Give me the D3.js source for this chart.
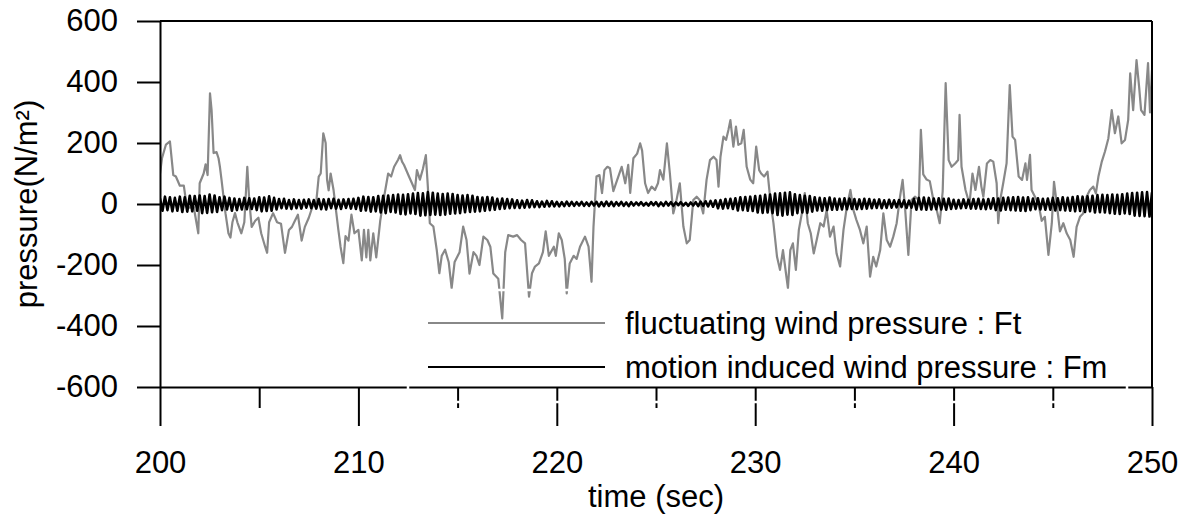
<!DOCTYPE html>
<html>
<head>
<meta charset="utf-8">
<script src="https://cdn.jsdelivr.net/npm/d3@7"></script>
<style>
  html, body { margin: 0; padding: 0; background: #fff; }
  svg { display: block; }
  text { font-family: "Liberation Sans", Arial, Helvetica, sans-serif; fill: #000; }
</style>
</head>
<body>
<svg id="chart" width="1183" height="516"></svg>
<script>
// Fluctuating wind pressure Ft: sample times (s) and values (N/m^2)
const ftTime = [
  200.0, 200.1, 200.3, 200.5, 200.67, 200.8, 201.0, 201.2, 201.35, 201.5, 201.7, 201.93,
  202.0, 202.2, 202.3, 202.4, 202.52, 202.6, 202.7, 202.85, 202.95, 203.02, 203.1, 203.2,
  203.3, 203.45, 203.55, 203.65, 203.78, 203.9, 204.1, 204.25, 204.4, 204.5, 204.62, 204.8,
  204.96, 205.1, 205.3, 205.4, 205.5, 205.7, 205.9, 206.1, 206.3, 206.5, 206.65, 206.8,
  206.95, 207.14, 207.3, 207.5, 207.73, 207.85, 208.0, 208.1, 208.23, 208.35, 208.42, 208.5,
  208.6, 208.75, 208.99, 209.1, 209.24, 209.35, 209.5, 209.65, 209.8, 210.0, 210.17, 210.28,
  210.4, 210.5, 210.6, 210.75, 210.9, 211.1, 211.26, 211.5, 211.65, 211.8, 212.0, 212.1,
  212.2, 212.3, 212.55, 212.85, 212.95, 213.1, 213.25, 213.4, 213.5, 213.6, 213.78, 213.95,
  214.08, 214.2, 214.37, 214.55, 214.7, 214.85, 215.1, 215.28, 215.45, 215.6, 215.8, 215.95,
  216.1, 216.3, 216.5, 216.65, 216.8, 217.05, 217.25, 217.4, 217.55, 217.8, 218.0, 218.2,
  218.4, 218.6, 218.75, 218.9, 219.1, 219.3, 219.44, 219.6, 219.85, 219.95, 220.1, 220.25,
  220.4, 220.5, 220.65, 220.85, 221.0, 221.17, 221.42, 221.6, 221.75, 221.85, 222.0, 222.15,
  222.28, 222.4, 222.55, 222.68, 222.85, 223.1, 223.27, 223.45, 223.6, 223.7, 223.86, 224.05,
  224.2, 224.3, 224.45, 224.6, 224.78, 224.95, 225.1, 225.2, 225.37, 225.55, 225.7, 225.87,
  226.0, 226.2, 226.38, 226.55, 226.7, 226.88, 227.05, 227.2, 227.38, 227.55, 227.72, 227.9,
  228.05, 228.15, 228.25, 228.4, 228.53, 228.65, 228.75, 228.9, 229.03, 229.15, 229.3, 229.42,
  229.57, 229.75, 229.9, 230.05, 230.2, 230.3, 230.45, 230.62, 230.78, 230.92, 231.1, 231.25,
  231.4, 231.55, 231.65, 231.77, 231.9, 232.05, 232.2, 232.35, 232.5, 232.65, 232.8, 232.95,
  233.1, 233.28, 233.45, 233.6, 233.77, 233.95, 234.1, 234.28, 234.45, 234.62, 234.8, 234.95,
  235.1, 235.28, 235.45, 235.62, 235.79, 235.95, 236.1, 236.3, 236.46, 236.63, 236.8, 236.96,
  237.13, 237.3, 237.43, 237.55, 237.72, 237.88, 238.05, 238.25, 238.35, 238.47, 238.64, 238.8,
  238.98, 239.15, 239.3, 239.45, 239.6, 239.75, 239.9, 240.08, 240.23, 240.3, 240.4, 240.6,
  240.8, 240.95, 241.1, 241.28, 241.4, 241.5, 241.68, 241.85, 242.0, 242.17, 242.25, 242.35,
  242.5, 242.67, 242.83, 242.97, 243.1, 243.28, 243.45, 243.62, 243.7, 243.85, 243.93, 244.1,
  244.28, 244.44, 244.6, 244.78, 244.95, 245.06, 245.2, 245.36, 245.53, 245.7, 245.88, 246.05,
  246.2, 246.37, 246.53, 246.7, 246.87, 247.04, 247.17, 247.3, 247.47, 247.63, 247.8, 247.97,
  248.13, 248.3, 248.47, 248.64, 248.8, 248.9, 249.05, 249.22, 249.35, 249.45, 249.62, 249.8,
  249.9, 250.0
];
const ftValue = [
  100, 150, 195, 205, 95, 90, 60, 60, -9, -12, -10, -96,
  68, 100, 130, 95, 363, 308, 167, 170, 150, 122, 80, 24,
  -30, -96, -110, -60, -30, -60, -96, -60, 122, 10, -75, -55,
  -45, -96, -140, -160, -60, -30, -60, -65, -160, -85, -75, -55,
  -35, -120, -75, -45, 0, -10, 90, 100, 232, 200, 80, 45,
  100, 45, -85, -140, -194, -105, -120, -35, -96, -85, -185, -85,
  -175, -85, -185, -96, -175, -55, 10, 100, 90, 122, 145, 160,
  139, 128, 90, 46, 111, 80, 115, 160, 57, -63, -74, -151,
  -227, -170, -150, -190, -276, -190, -158, -74, -118, -228, -158, -170,
  -200, -107, -118, -140, -228, -245, -375, -158, -102, -107, -102, -118,
  -129, -304, -227, -205, -195, -158, -90, -170, -140, -170, -96, -118,
  -180, -293, -195, -170, -180, -140, -107, -140, -255, -74, 90, 95,
  36, 111, 122, 117, 42, 90, 122, 68, 128, 36, 150, 165,
  199, 175, 68, 36, 57, 46, 68, 111, 80, 199, 100, -31,
  2, 68, -74, -129, -118, 13, 24, 13, -31, 80, 144, 155,
  144, 57, 155, 221, 210, 243, 275, 188, 254, 194, 199, 243,
  122, 80, 68, 188, 111, 100, 90, 106, 2, -63, -173, -216,
  -151, -227, -276, -151, -129, -216, -85, -31, 36, -63, -96, -162,
  -118, -63, -74, -20, -107, -74, -162, -205, -85, -9, 46, -20,
  -52, -85, -129, -74, -238, -173, -205, -151, -31, -118, -140, -107,
  -63, 24, 79, -9, -167, 13, 24, 13, 243, 97, 80, 75,
  13, -20, -63, 41, 396, 144, 122, 133, 144, 292, 122, 46,
  0, 100, 46, 122, 57, 24, 133, 144, 139, 68, -63, 13,
  68, 133, 390, 221, 210, 90, 79, 133, 79, 161, 46, 24,
  0, -55, -42, -167, -63, 73, 0, -90, -63, -96, -118, -173,
  -75, -42, -31, 24, 46, 57, 35, 90, 139, 172, 215, 308,
  232, 287, 199, 210, 276, 428, 308, 472, 385, 308, 292, 462,
  300, 440
];

// Motion induced wind pressure Fm: one value every half cycle (0.125 s) from 200 s
const fmStart = 200;
const fmStep = 0.125;
const fmValue = [
  18,-22,24,-20,22,-24,20,-22,
  24,-26,22,-25,27,-24,26,-22,
  28,-30,26,-29,31,-27,28,-26,
  22,-20,24,-18,20,-22,18,-20,
  16,-18,20,-17,19,-16,18,-20,
  22,-24,21,-23,25,-22,20,-18,
  16,-14,17,-15,13,-16,15,-14,
  13,-15,14,-12,15,-14,13,-15,
  16,-17,15,-18,16,-14,17,-15,
  14,-16,15,-13,16,-15,17,-16,
  20,-22,24,-21,23,-25,22,-24,
  26,-28,27,-30,28,-26,29,-28,
  31,-33,30,-34,32,-31,34,-33,
  36,-38,35,-37,39,-36,37,-35,
  34,-36,33,-35,34,-32,33,-31,
  29,-30,28,-27,29,-26,27,-25,
  23,-24,21,-22,23,-20,21,-19,
  17,-16,18,-15,16,-14,15,-13,
  12,-13,11,-12,13,-11,12,-10,
  9,-10,8,-9,10,-8,9,-8,
  7,-8,6,-7,8,-6,7,-6,
  6,-5,7,-6,5,-6,7,-5,
  7,-8,6,-7,8,-6,7,-7,
  6,-5,7,-6,5,-7,6,-5,
  5,-4,6,-5,4,-5,6,-4,
  6,-7,5,-6,7,-5,6,-6,
  5,-4,6,-5,4,-6,5,-5,
  6,-7,8,-6,9,-8,10,-9,
  12,-14,13,-15,16,-14,17,-16,
  19,-21,22,-20,23,-22,24,-23,
  26,-28,27,-29,30,-28,31,-30,
  34,-36,35,-38,37,-35,38,-36,
  32,-30,29,-28,27,-29,26,-25,
  22,-21,20,-22,19,-20,21,-19,
  18,-19,17,-18,19,-17,18,-16,
  16,-17,15,-16,17,-15,16,-14,
  14,-13,15,-14,12,-13,14,-12,
  12,-11,13,-10,12,-13,11,-12,
  17,-19,20,-18,21,-19,20,-18,
  18,-17,19,-18,17,-19,18,-16,
  14,-15,13,-14,15,-13,14,-15,
  16,-15,17,-16,15,-17,16,-15,
  19,-20,18,-21,20,-19,21,-20,
  22,-21,23,-22,21,-23,22,-20,
  18,-17,19,-18,17,-19,18,-19,
  20,-21,19,-20,22,-21,20,-22,
  23,-24,25,-23,24,-26,25,-24,
  27,-28,29,-27,30,-28,29,-30,
  31,-32,30,-33,32,-31,34,-33,
  36,-38,37,-39,38,-40,39,-41,
  38
];

// Axis ticks and labels
const yTicks = [600, 400, 200, 0, -200, -400, -600];
const xMajorTicks = [200, 210, 220, 230, 240, 250];
const xMinorTicks = [205, 215, 225, 235, 245];
const xTitle = "time (sec)";
const yTitle = "pressure(N/m\u00B2)";
const legendLabels = ["fluctuating wind pressure : Ft", "motion induced wind pressure : Fm"];

const svg = d3.select("#chart");
const FONT = 31;

const x = d3.scaleLinear().domain([200, 250]).range([160, 1152]);
const y = d3.scaleLinear().domain([-600, 600]).range([387, 21]);

const ft = ftTime.map((t, i) => [t, ftValue[i]]);
const fm = fmValue.map((v, i) => [fmStart + i * fmStep, v]);

const line = d3.line().x(d => x(d[0])).y(d => y(d[1]));

svg.append("defs").append("clipPath").attr("id", "plot-clip")
  .append("rect")
  .attr("x", x(200)).attr("y", y(600) - 5)
  .attr("width", x(250) - x(200)).attr("height", y(-600) - y(600) + 10);

// Data lines: fluctuating series below, motion induced series on top
const plot = svg.append("g").attr("clip-path", "url(#plot-clip)");
plot.append("path").datum(ft)
  .attr("d", line)
  .attr("fill", "none").attr("stroke", "#888")
  .attr("stroke-width", 2.2).attr("stroke-linejoin", "round");
plot.append("path").datum(fm)
  .attr("d", line)
  .attr("fill", "none").attr("stroke", "#000")
  .attr("stroke-width", 2.6).attr("stroke-linejoin", "round");

// Left axis
const yAxis = svg.append("g")
  .attr("transform", `translate(${x(200)},0)`)
  .call(d3.axisLeft(y).tickValues(yTicks).tickSize(23).tickSizeOuter(0)
    .tickPadding(19).tickFormat(d => String(d)));
yAxis.select(".domain").attr("stroke-width", 2);
yAxis.selectAll(".tick line").attr("stroke-width", 2);
yAxis.selectAll("text").style("font-size", FONT + "px");

// Bottom axis: long major ticks with labels, short minor ticks
const xAxis = svg.append("g")
  .attr("transform", `translate(0,${y(-600)})`)
  .call(d3.axisBottom(x).tickValues(xMajorTicks).tickSize(39).tickSizeOuter(0)
    .tickPadding(25).tickFormat(d => String(d)));
xAxis.select(".domain").attr("stroke-width", 2);
xAxis.selectAll(".tick line").attr("stroke-width", 2);
xAxis.selectAll("text").style("font-size", FONT + "px");

const xMinor = svg.append("g")
  .attr("transform", `translate(0,${y(-600)})`)
  .call(d3.axisBottom(x).tickValues(xMinorTicks).tickSize(21).tickSizeOuter(0)
    .tickFormat(""));
xMinor.select(".domain").remove();
xMinor.selectAll(".tick line").attr("stroke-width", 2);

// Frame: top and right edges
svg.append("line")
  .attr("x1", x(200)).attr("x2", x(250))
  .attr("y1", y(600)).attr("y2", y(600))
  .attr("stroke", "#000").attr("stroke-width", 2);
svg.append("line")
  .attr("x1", x(250)).attr("x2", x(250))
  .attr("y1", y(600)).attr("y2", y(-600))
  .attr("stroke", "#000").attr("stroke-width", 2);

// Axis titles
svg.append("text")
  .attr("x", (x(200) + x(250)) / 2).attr("y", 507)
  .attr("text-anchor", "middle")
  .style("font-size", FONT + "px")
  .text(xTitle);
svg.append("text")
  .attr("transform", `translate(37,${y(0)}) rotate(-90)`)
  .attr("text-anchor", "middle")
  .style("font-size", FONT + "px")
  .text(yTitle);

// Legend frame (white outline laid over the plot)
svg.append("rect")
  .attr("x", 408).attr("y", 290)
  .attr("width", 719).attr("height", 112)
  .attr("fill", "none").attr("stroke", "#fff").attr("stroke-width", 2.5);

const legend = svg.append("g");
const legendColors = ["#888", "#000"];
legendLabels.forEach((label, i) => {
  const ly = 323 + i * 44;
  legend.append("line")
    .attr("x1", 428).attr("x2", 605)
    .attr("y1", ly).attr("y2", ly)
    .attr("stroke", legendColors[i]).attr("stroke-width", 2);
  legend.append("text")
    .attr("x", 625).attr("y", ly + 11)
    .style("font-size", FONT + "px")
    .text(label);
});
</script>
</body>
</html>
